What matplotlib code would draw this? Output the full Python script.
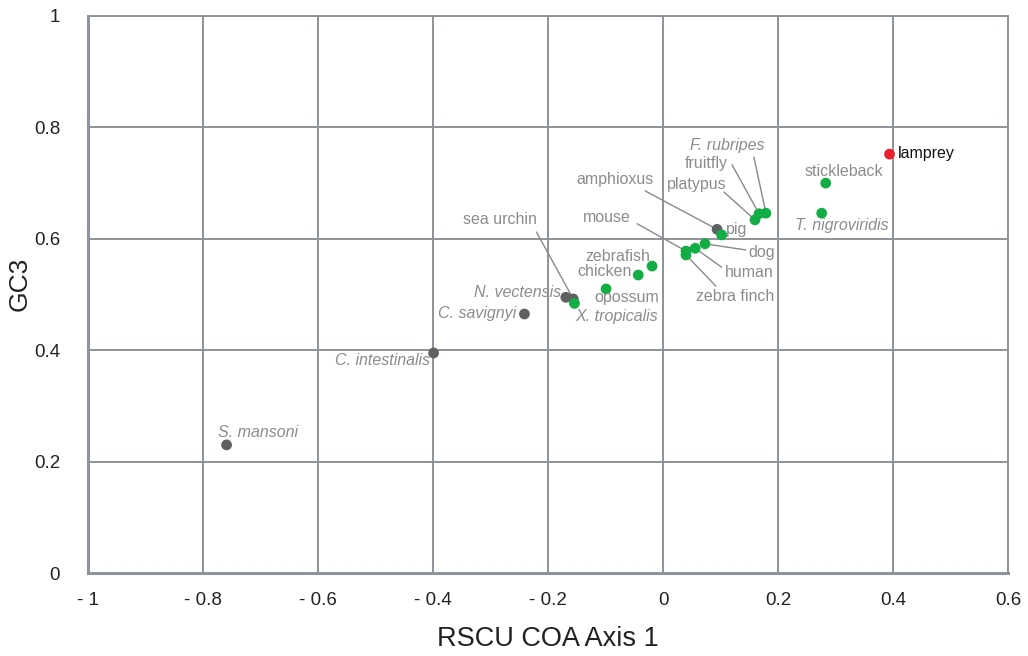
import matplotlib
matplotlib.use("Agg")
import matplotlib.pyplot as plt

plt.rcParams['font.family'] = ['Liberation Sans', 'DejaVu Sans']

species = ["lamprey", "stickleback", "T. nigroviridis", "F. rubripes", "fruitfly",
           "platypus", "amphioxus", "pig", "dog", "human", "mouse", "zebra finch",
           "zebrafish", "chicken", "opossum", "N. vectensis", "sea urchin",
           "X. tropicalis", "C. savignyi", "C. intestinalis", "S. mansoni"]
rscu_axis1 = [0.394, 0.283, 0.276, 0.179, 0.167, 0.160, 0.094, 0.102, 0.073, 0.056,
              0.040, 0.040, -0.019, -0.043, -0.099, -0.169, -0.156, -0.154, -0.241,
              -0.399, -0.759]
gc3 = [0.752, 0.700, 0.646, 0.646, 0.645, 0.634, 0.617, 0.607, 0.591, 0.583,
       0.578, 0.571, 0.551, 0.535, 0.510, 0.495, 0.492, 0.484, 0.465, 0.395, 0.230]
group = ["red", "green", "green", "green", "green", "green", "gray", "green", "green",
         "green", "green", "green", "green", "green", "green", "gray", "gray", "green",
         "gray", "gray", "gray"]
italic = ["T. nigroviridis", "F. rubripes", "N. vectensis", "X. tropicalis",
          "C. savignyi", "C. intestinalis", "S. mansoni"]

x_ticks = [-1, -0.8, -0.6, -0.4, -0.2, 0, 0.2, 0.4, 0.6]
x_tick_labels = ["- 1", "- 0.8", "- 0.6", "- 0.4", "- 0.2", "0", "0.2", "0.4", "0.6"]
y_ticks = [0, 0.2, 0.4, 0.6, 0.8, 1]
y_tick_labels = ["0", "0.2", "0.4", "0.6", "0.8", "1"]

colors = {"red": "#e8202a", "green": "#12ad45", "gray": "#5f6062"}

# label placement: (x, y, ha, leader-line start or None)
label_pos = {
    "lamprey": (0.408, 0.754, "left", None),
    "stickleback": (0.314, 0.720, "center", None),
    "T. nigroviridis": (0.311, 0.623, "center", None),
    "F. rubripes": (0.177, 0.768, "right", (0.158, 0.747)),
    "fruitfly": (0.113, 0.736, "right", (0.120, 0.733)),
    "platypus": (0.111, 0.698, "right", (0.106, 0.684)),
    "amphioxus": (-0.017, 0.706, "right", (-0.031, 0.686)),
    "pig": (0.109, 0.616, "left", None),
    "dog": (0.194, 0.575, "right", (0.144, 0.580)),
    "human": (0.193, 0.539, "right", (0.102, 0.549)),
    "mouse": (-0.056, 0.639, "right", (-0.045, 0.627)),
    "zebra finch": (0.193, 0.497, "right", (0.092, 0.515)),
    "zebrafish": (-0.023, 0.569, "right", None),
    "chicken": (-0.054, 0.542, "right", None),
    "opossum": (-0.120, 0.494, "left", None),
    "N. vectensis": (-0.177, 0.503, "right", None),
    "sea urchin": (-0.283, 0.634, "center", (-0.220, 0.612)),
    "X. tropicalis": (-0.009, 0.461, "right", None),
    "C. savignyi": (-0.255, 0.465, "right", None),
    "C. intestinalis": (-0.406, 0.381, "right", None),
    "S. mansoni": (-0.705, 0.253, "center", None),
}

fig = plt.figure(figsize=(10.28, 6.56), dpi=100)
ax = fig.add_axes([88 / 1028, 83 / 656, 920 / 1028, 557 / 656])
ax.set_xlim(-1, 0.6)
ax.set_ylim(0, 1)

grid_c = "#8d939a"
ax.set_xticks(x_ticks)
ax.set_xticklabels(x_tick_labels)
ax.set_yticks(y_ticks)
ax.set_yticklabels(y_tick_labels)
ax.grid(True, color=grid_c, linewidth=1.4)
ax.set_axisbelow(True)
for s in ax.spines.values():
    s.set_color(grid_c)
    s.set_linewidth(1.4)
ax.spines['left'].set_linewidth(2.2)
ax.spines['bottom'].set_linewidth(2.2)
ax.tick_params(length=0, labelsize=13.5, colors="#222222")
ax.tick_params(axis='x', pad=14)
ax.tick_params(axis='y', pad=20)

line_c = "#8a8a8a"
text_c = "#8c8c8c"
for name, xv, yv, g in zip(species, rscu_axis1, gc3, group):
    tx, ty, ha, ls = label_pos[name]
    if ls is not None:
        ax.annotate("", xy=(xv, yv), xytext=ls,
                    arrowprops=dict(arrowstyle="-", color=line_c, lw=1.0,
                                    shrinkA=0, shrinkB=3), zorder=2)
    ax.text(tx, ty, name, ha=ha, va="center", fontsize=11.5,
            color="#111111" if g == "red" else text_c,
            style="italic" if name in italic else "normal", zorder=4)

ax.scatter(rscu_axis1, gc3, s=60, c=[colors[g] for g in group],
           edgecolors="none", zorder=3, clip_on=False)

ax.set_xlabel("RSCU COA Axis 1", fontsize=19.5, color="#222222", labelpad=12)
ax.set_ylabel("GC3", fontsize=19, color="#222222")
ax.yaxis.set_label_coords(-0.061, 0.519)

fig.savefig("out.png", dpi=100)
